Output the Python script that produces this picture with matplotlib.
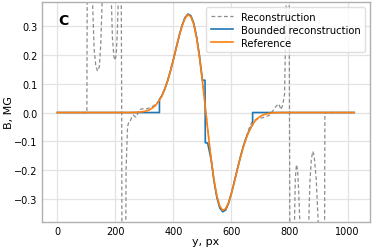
import numpy as np
import matplotlib
matplotlib.use('Agg')
import matplotlib.pyplot as plt

# data
ref_x = [0, 250, 260, 270, 280, 290, 300, 310, 320, 330, 340, 350, 360, 370, 380, 390,
         400, 410, 420, 430, 440, 450, 460, 470, 480, 490, 500, 510, 520, 530, 540,
         550, 560, 570, 580, 590, 600, 610, 620, 630, 640, 650, 660, 670, 680, 690,
         700, 710, 720, 730, 740, 750, 760, 770, 1023]
ref_y = [0.0, 0.0, 0.0003, 0.0007, 0.0012, 0.0022, 0.0039, 0.0065, 0.0107, 0.0171, 0.0264,
         0.0396, 0.0573, 0.0807, 0.1096, 0.1443, 0.1834, 0.2246, 0.2654, 0.3011, 0.3274,
         0.3396, 0.3338, 0.3071, 0.2593, 0.1922, 0.1099, 0.0187, -0.0741, -0.1608, -0.2346,
         -0.2905, -0.3256, -0.3397, -0.3343, -0.3131, -0.2804, -0.2412, -0.1997, -0.1594,
         -0.1228, -0.0915, -0.066, -0.0461, -0.0311, -0.0204, -0.013, -0.008, -0.0048,
         -0.0028, -0.0015, -0.0008, -0.0004, 0.0, 0.0]

bound_x = [0, 352, 352, 360, 370, 380, 390, 400, 410, 420, 430, 440, 450, 460, 470, 480,
           490, 500, 509, 510, 518, 530, 540, 550, 560, 570, 580, 590, 600, 610, 620, 630,
           640, 650, 660, 670, 673, 673, 1023]
bound_y = [0.0, 0.0, 0.046, 0.0573, 0.081, 0.11, 0.145, 0.184, 0.226, 0.267, 0.303, 0.330,
           0.342, 0.337, 0.311, 0.263, 0.196, 0.113, 0.112, -0.105, -0.106, -0.163, -0.239,
           -0.296, -0.332, -0.345, -0.339, -0.316, -0.281, -0.24, -0.198, -0.158, -0.121,
           -0.09, -0.065, -0.046, -0.043, 0.0, 0.0]

recon_x = [0, 100, 102, 106, 112, 117, 121, 127, 133, 139, 145, 150, 155, 162, 172, 181,
           186, 190, 195, 199, 203, 207, 211, 215, 218, 222, 226, 231, 237, 242, 247, 252,
           257, 262, 267, 271, 277, 283, 293, 305, 317, 330, 340, 350, 360, 370, 380, 390,
           400, 410, 420, 430, 440, 450, 460, 470, 480, 490, 500, 510, 520, 530, 540, 550,
           560, 570, 580, 590, 600, 610, 620, 630, 640, 650, 660, 668, 676, 685, 698, 708,
           720, 731, 742, 754, 763, 771, 777, 783, 789, 794, 800, 806, 812, 817, 820, 824,
           828, 832, 837, 845, 855, 862, 866, 870, 875, 880, 885, 892, 899, 905, 912, 918,
           922, 1023]
recon_y = [0.0, 0.0, 0.0, 1.5, 3.0, 1.5, 0.4, 0.22, 0.16, 0.144, 0.16, 0.24, 0.4, 2.0, 3.0,
           2.0, 0.4, 0.26, 0.195, 0.182, 0.2, 0.28, 0.42, 1.5, 1.0, 0.0, -2.5, -1.5, -0.2,
           -0.05, -0.03, -0.028, -0.015, -0.009, -0.013, -0.016, -0.004, 0.01, 0.013, 0.012,
           0.016, 0.022, 0.03, 0.041, 0.058, 0.082, 0.111, 0.146, 0.185, 0.226, 0.266, 0.302,
           0.328, 0.341, 0.335, 0.308, 0.26, 0.192, 0.11, 0.02, -0.072, -0.16, -0.236, -0.292,
           -0.327, -0.341, -0.335, -0.313, -0.28, -0.241, -0.2, -0.158, -0.12, -0.088, -0.058,
           -0.038, -0.028, -0.024, -0.02, -0.018, -0.014, -0.009, 0.005, 0.022, 0.03, 0.01,
           0.028, 0.063, 0.4, 2.0, 0.0, -2.0, -1.0, -0.4, -0.23, -0.181, -0.2, -0.28, -0.42,
           -2.0, -2.5, -1.0, -0.4, -0.25, -0.165, -0.135, -0.15, -0.23, -0.38, -1.5, -3.0,
           -1.5, 0.0, 0.0]

fig = plt.figure(figsize=(3.74, 2.51), dpi=100)
ax = fig.add_axes([0.112, 0.112, 0.877, 0.876])

ax.plot(recon_x, recon_y, '--', color='#8c8c8c', lw=0.9, dashes=(3, 2),
        label='Reconstruction')
ax.plot(bound_x, bound_y, color='#1f77b4', lw=1.2, label='Bounded reconstruction')
ax.plot(ref_x, ref_y, color='#ff7f0e', lw=1.2, label='Reference')

ax.set_xlim(-53, 1077)
ax.set_ylim(-0.38, 0.384)
ax.set_xticks([0, 200, 400, 600, 800, 1000])
ax.set_yticks([-0.3, -0.2, -0.1, 0.0, 0.1, 0.2, 0.3])

ax.grid(True, color='#e3e3e3', lw=0.9)
ax.set_axisbelow(True)
for s in ax.spines.values():
    s.set_color('#b0b0b0')
    s.set_linewidth(1.0)
ax.tick_params(length=0, pad=3, labelsize=7)

ax.set_xlabel('y, px', fontsize=8, labelpad=0)
ax.set_ylabel('B, MG', fontsize=8, labelpad=0)
ax.text(0.05, 0.92, 'C', transform=ax.transAxes, fontsize=10, fontweight='bold',
        ha='left', va='center')

leg = ax.legend(loc='upper right', fontsize=7.2, frameon=True, borderaxespad=0.5,
                handlelength=2.2, labelspacing=0.3, borderpad=0.45)
leg.get_frame().set_edgecolor('#d8d8d8')

fig.savefig('out.png', dpi=100)
